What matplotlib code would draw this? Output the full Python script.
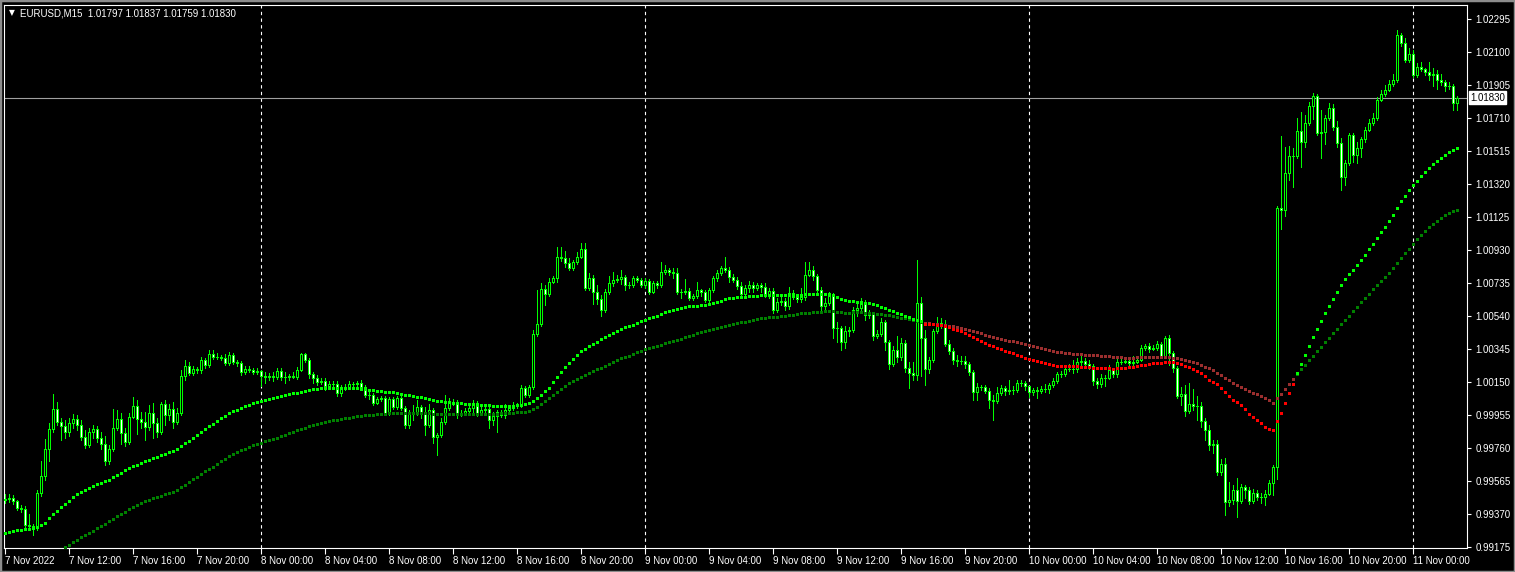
import numpy as np
import matplotlib.pyplot as plt
from matplotlib.transforms import blended_transform_factory
from matplotlib.patches import Rectangle

plt.rcParams['font.family'] = ['Liberation Sans', 'DejaVu Sans']

symbol = "EURUSD,M15"
header_ohlc = "1.01797 1.01837 1.01759 1.01830"
last_price = 1.01830
first_open = 0.99452

# prices in points (1e-5), one value per M15 bar, 7 Nov 08:00 -> 11 Nov 02:45
close_pts = [
    99458, 99465, 99446, 99405, 99399, 99304, 99298, 99287, 99494, 99595,
    99754, 99872, 99990, 99913, 99889, 99854, 99907, 99931, 99895, 99825,
    99778, 99854, 99872, 99819, 99783, 99683, 99754, 99878, 99931, 99848,
    99795, 99943, 100008, 99931, 99913, 99884, 99966, 99907, 99854, 100020,
    99954, 99990, 99913, 99966, 100186, 100245, 100203, 100227, 100221, 100280,
    100250, 100315, 100298, 100298, 100292, 100262, 100309, 100268, 100262, 100209,
    100227, 100221, 100209, 100215, 100186, 100180, 100186, 100180, 100215, 100180,
    100180, 100186, 100180, 100221, 100315, 100280, 100197, 100174, 100150, 100156,
    100127, 100138, 100138, 100085, 100115, 100121, 100138, 100138, 100144, 100121,
    100073, 100073, 100025, 100049, 100055, 99966, 100049, 100002, 100055, 99996,
    99895, 99972, 99966, 100002, 99966, 99895, 99984, 99825, 99836, 99913,
    99996, 100031, 100031, 99966, 99966, 99978, 99996, 100025, 99966, 99984,
    99990, 99925, 99948, 99972, 99954, 99984, 99996, 100008, 100014, 100115,
    100073, 100121, 100434, 100492, 100699, 100670, 100740, 100764, 100889, 100883,
    100853, 100824, 100859, 100889, 100936, 100705, 100764, 100681, 100640, 100575,
    100681, 100734, 100752, 100758, 100770, 100723, 100723, 100764, 100752, 100723,
    100746, 100681, 100734, 100723, 100800, 100812, 100800, 100794, 100681, 100681,
    100687, 100646, 100658, 100693, 100681, 100634, 100693, 100764, 100794, 100824,
    100812, 100770, 100752, 100717, 100670, 100705, 100723, 100705, 100723, 100711,
    100664, 100687, 100575, 100622, 100628, 100599, 100676, 100652, 100640, 100652,
    100782, 100812, 100776, 100693, 100599, 100616, 100658, 100469, 100469, 100386,
    100451, 100457, 100575, 100587, 100611, 100545, 100551, 100422, 100434, 100504,
    100386, 100256, 100339, 100298, 100380, 100233, 100203, 100192, 100616, 100410,
    100227, 100280, 100451, 100498, 100487, 100374, 100333, 100280, 100274, 100274,
    100256, 100209, 100090, 100121, 100121, 100096, 100043, 100037, 100085, 100115,
    100096, 100102, 100102, 100144, 100144, 100127, 100090, 100102, 100096, 100109,
    100109, 100132, 100156, 100197, 100197, 100227, 100227, 100227, 100268, 100274,
    100256, 100245, 100156, 100138, 100174, 100174, 100221, 100197, 100268, 100268,
    100274, 100262, 100268, 100280, 100351, 100363, 100345, 100351, 100374, 100303,
    100410, 100321, 100233, 100067, 100079, 99978, 100020, 100008, 100008, 99919,
    99866, 99778, 99783, 99618, 99665, 99440, 99452, 99512, 99446, 99530,
    99512, 99446, 99494, 99471, 99471, 99488, 99553, 99648, 101178, 101166,
    101385, 101485, 101485, 101633, 101568, 101680, 101781, 101840, 101621, 101627,
    101710, 101769, 101657, 101562, 101361, 101444, 101609, 101491, 101533, 101586,
    101639, 101680, 101710, 101816, 101852, 101875, 101911, 101934, 102200, 102153,
    102052, 102088, 101964, 102011, 101999, 101981, 101964, 101970, 101934, 101922,
    101899, 101899, 101797, 101830,
]
high_pts = [
    99488, 99488, 99482, 99452, 99423, 99417, 99369, 99310, 99512, 99683,
    99813, 99907, 100078, 100031, 99937, 99925, 99937, 99960, 99954, 99925,
    99866, 99878, 99895, 99889, 99854, 99830, 99778, 99990, 99984, 99966,
    99878, 99966, 100061, 100043, 99972, 99972, 100014, 100025, 99937, 100031,
    100043, 100020, 100031, 99996, 100221, 100280, 100268, 100245, 100239, 100298,
    100292, 100339, 100339, 100321, 100309, 100315, 100327, 100321, 100280, 100274,
    100245, 100245, 100233, 100233, 100221, 100209, 100203, 100209, 100233, 100233,
    100209, 100197, 100209, 100239, 100321, 100321, 100292, 100209, 100192, 100174,
    100174, 100156, 100156, 100156, 100132, 100138, 100156, 100150, 100156, 100162,
    100132, 100096, 100085, 100061, 100067, 100067, 100061, 100061, 100067, 100067,
    100008, 99984, 100014, 100043, 100014, 100002, 100020, 99996, 99848, 99937,
    100073, 100055, 100049, 100043, 99984, 99996, 100020, 100043, 100037, 100008,
    100014, 100002, 99972, 99984, 99984, 100020, 100014, 100031, 100025, 100132,
    100127, 100132, 100457, 100693, 100734, 100723, 100764, 100776, 100948, 100948,
    100924, 100883, 100871, 100918, 100972, 100972, 100794, 100782, 100723, 100664,
    100699, 100776, 100800, 100782, 100812, 100782, 100740, 100776, 100776, 100764,
    100764, 100758, 100746, 100746, 100859, 100841, 100824, 100824, 100824, 100699,
    100758, 100705, 100670, 100740, 100699, 100693, 100705, 100776, 100812, 100835,
    100889, 100829, 100788, 100770, 100740, 100723, 100746, 100740, 100734, 100734,
    100734, 100705, 100705, 100646, 100658, 100646, 100711, 100693, 100664, 100705,
    100859, 100859, 100835, 100788, 100711, 100646, 100681, 100676, 100504, 100481,
    100481, 100475, 100593, 100616, 100646, 100634, 100575, 100563, 100457, 100528,
    100516, 100398, 100363, 100422, 100410, 100398, 100268, 100268, 100871, 100652,
    100457, 100298, 100463, 100534, 100528, 100516, 100398, 100351, 100309, 100303,
    100303, 100268, 100221, 100144, 100132, 100132, 100115, 100073, 100121, 100132,
    100127, 100162, 100127, 100162, 100162, 100156, 100127, 100115, 100121, 100127,
    100138, 100144, 100174, 100209, 100215, 100245, 100256, 100280, 100292, 100315,
    100292, 100280, 100256, 100174, 100197, 100192, 100250, 100233, 100286, 100286,
    100292, 100292, 100303, 100298, 100369, 100374, 100380, 100369, 100392, 100386,
    100422, 100428, 100333, 100245, 100121, 100132, 100144, 100109, 100067, 100031,
    99937, 99895, 99807, 99807, 99695, 99701, 99559, 99541, 99583, 99547,
    99541, 99530, 99518, 99512, 99494, 99512, 99571, 99659, 101190, 101603,
    101538, 101544, 101533, 101710, 101745, 101728, 101804, 101857, 101852, 101757,
    101728, 101798, 101792, 101692, 101591, 101462, 101621, 101621, 101568, 101597,
    101657, 101704, 101739, 101834, 101875, 101905, 101934, 101970, 102230, 102212,
    102183, 102123, 102112, 102035, 102041, 102005, 102041, 102005, 101993, 101970,
    101934, 101922, 101911, 101837,
]
low_pts = [
    99434, 99440, 99428, 99393, 99381, 99292, 99275, 99245, 99275, 99477,
    99571, 99683, 99854, 99895, 99807, 99819, 99830, 99878, 99866, 99807,
    99760, 99766, 99819, 99795, 99754, 99659, 99665, 99742, 99866, 99783,
    99772, 99783, 99937, 99842, 99878, 99807, 99866, 99819, 99825, 99842,
    99895, 99925, 99878, 99901, 99954, 100162, 100192, 100192, 100203, 100203,
    100233, 100239, 100286, 100286, 100280, 100250, 100250, 100256, 100245, 100192,
    100197, 100209, 100197, 100197, 100127, 100144, 100162, 100156, 100168, 100162,
    100144, 100162, 100174, 100168, 100215, 100268, 100174, 100144, 100132, 100138,
    100102, 100109, 100121, 100067, 100067, 100102, 100109, 100121, 100127, 100109,
    100061, 100049, 100014, 100020, 100037, 99954, 99954, 99990, 99990, 99984,
    99878, 99878, 99925, 99954, 99937, 99836, 99884, 99789, 99719, 99825,
    99901, 99984, 100014, 99937, 99948, 99954, 99954, 99972, 99948, 99954,
    99972, 99878, 99895, 99854, 99943, 99937, 99972, 99984, 99996, 100002,
    100061, 100061, 100109, 100422, 100481, 100605, 100658, 100734, 100740, 100865,
    100829, 100812, 100812, 100847, 100883, 100693, 100693, 100611, 100611, 100540,
    100563, 100670, 100717, 100740, 100728, 100693, 100705, 100711, 100740, 100711,
    100705, 100670, 100676, 100705, 100711, 100788, 100782, 100764, 100670, 100646,
    100670, 100634, 100634, 100646, 100658, 100622, 100622, 100681, 100746, 100782,
    100800, 100740, 100740, 100699, 100658, 100658, 100681, 100681, 100693, 100681,
    100652, 100646, 100557, 100563, 100605, 100575, 100581, 100640, 100622, 100622,
    100634, 100776, 100752, 100664, 100575, 100575, 100605, 100410, 100386, 100339,
    100351, 100422, 100445, 100540, 100575, 100516, 100528, 100398, 100410, 100422,
    100339, 100227, 100245, 100268, 100280, 100209, 100115, 100162, 100162, 100186,
    100132, 100203, 100268, 100439, 100469, 100363, 100315, 100256, 100245, 100256,
    100233, 100192, 100043, 100043, 100102, 100085, 99996, 99925, 100025, 100073,
    100073, 100079, 100079, 100090, 100127, 100102, 100061, 100073, 100055, 100085,
    100090, 100085, 100121, 100144, 100180, 100186, 100215, 100203, 100209, 100245,
    100239, 100227, 100132, 100115, 100121, 100127, 100168, 100180, 100180, 100256,
    100262, 100245, 100250, 100262, 100274, 100339, 100327, 100339, 100339, 100292,
    100292, 100250, 100209, 100055, 100014, 99948, 99966, 99984, 99925, 99884,
    99807, 99748, 99730, 99600, 99600, 99364, 99417, 99428, 99352, 99434,
    99464, 99428, 99434, 99452, 99434, 99423, 99482, 99482, 99577, 101054,
    101131, 101343, 101302, 101473, 101420, 101538, 101668, 101704, 101609, 101473,
    101556, 101698, 101639, 101538, 101284, 101314, 101432, 101450, 101444, 101479,
    101568, 101633, 101668, 101698, 101810, 101840, 101869, 101899, 101922, 102135,
    102041, 102041, 101952, 101952, 101987, 101964, 101934, 101899, 101881, 101905,
    101869, 101881, 101757, 101759,
]
ma_fast_pts = [
    99257, 99263, 99269, 99275, 99275, 99281, 99281, 99287, 99293, 99305,
    99316, 99346, 99369, 99387, 99411, 99428, 99446, 99470, 99488, 99500,
    99512, 99524, 99535, 99547, 99553, 99565, 99571, 99589, 99600, 99612,
    99630, 99642, 99654, 99659, 99671, 99683, 99689, 99701, 99707, 99718,
    99724, 99736, 99742, 99754, 99771, 99789, 99801, 99819, 99836, 99854,
    99872, 99889, 99901, 99919, 99937, 99948, 99966, 99978, 99984, 99996,
    100008, 100014, 100025, 100031, 100037, 100043, 100049, 100055, 100061, 100067,
    100073, 100079, 100085, 100085, 100090, 100096, 100102, 100109, 100109, 100115,
    100115, 100115, 100115, 100115, 100115, 100115, 100115, 100115, 100115, 100109,
    100109, 100102, 100102, 100096, 100096, 100090, 100090, 100090, 100085, 100079,
    100073, 100073, 100067, 100061, 100061, 100055, 100049, 100043, 100037, 100037,
    100031, 100031, 100025, 100025, 100025, 100020, 100020, 100020, 100014, 100014,
    100014, 100014, 100008, 100008, 100008, 100008, 100008, 100008, 100014, 100014,
    100020, 100025, 100037, 100055, 100073, 100096, 100115, 100150, 100180, 100209,
    100239, 100262, 100286, 100309, 100333, 100345, 100363, 100374, 100386, 100404,
    100416, 100428, 100439, 100451, 100463, 100475, 100481, 100487, 100498, 100510,
    100516, 100528, 100534, 100540, 100551, 100563, 100569, 100575, 100581, 100587,
    100593, 100599, 100599, 100599, 100605, 100605, 100611, 100616, 100622, 100628,
    100640, 100646, 100646, 100652, 100652, 100652, 100658, 100658, 100658, 100664,
    100664, 100664, 100664, 100664, 100664, 100664, 100664, 100664, 100664, 100664,
    100670, 100670, 100670, 100670, 100670, 100670, 100670, 100664, 100652, 100640,
    100634, 100628, 100628, 100622, 100622, 100616, 100616, 100611, 100605, 100593,
    100587, 100575, 100569, 100557, 100551, 100540, 100534, 100522, 100516, 100510,
    100494, 100492, 100490, 100489, 100484, 100481, 100475, 100463, 100457, 100451,
    100439, 100428, 100416, 100404, 100392, 100380, 100369, 100363, 100351, 100345,
    100333, 100327, 100321, 100309, 100303, 100292, 100286, 100280, 100274, 100268,
    100262, 100256, 100250, 100245, 100245, 100245, 100245, 100245, 100245, 100239,
    100239, 100239, 100233, 100233, 100233, 100233, 100233, 100227, 100233, 100233,
    100233, 100239, 100239, 100245, 100250, 100250, 100256, 100262, 100262, 100262,
    100268, 100268, 100268, 100262, 100256, 100245, 100239, 100227, 100215, 100203,
    100186, 100162, 100150, 100138, 100115, 100090, 100067, 100043, 100031, 100014,
    99990, 99960, 99943, 99925, 99907, 99884, 99872, 99866, 99919, 99966,
    100025, 100085, 100138, 100203, 100256, 100309, 100363, 100416, 100463, 100510,
    100557, 100599, 100640, 100681, 100723, 100758, 100788, 100812, 100841, 100871,
    100900, 100936, 100965, 101001, 101036, 101066, 101101, 101137, 101178, 101220,
    101249, 101284, 101314, 101337, 101367, 101391, 101414, 101438, 101456, 101473,
    101491, 101509, 101521, 101533,
]
ma_slow_pts = [
    98991, 98997, 99003, 99008, 99014, 99020, 99026, 99032, 99044, 99062,
    99079, 99097, 99115, 99133, 99151, 99174, 99186, 99204, 99216, 99234,
    99246, 99257, 99269, 99287, 99299, 99310, 99328, 99340, 99358, 99369,
    99381, 99399, 99411, 99423, 99434, 99446, 99452, 99464, 99470, 99476,
    99488, 99494, 99500, 99512, 99530, 99541, 99559, 99577, 99589, 99606,
    99624, 99636, 99648, 99665, 99683, 99695, 99713, 99724, 99736, 99748,
    99754, 99766, 99778, 99783, 99789, 99801, 99807, 99813, 99819, 99830,
    99836, 99848, 99854, 99866, 99872, 99878, 99889, 99895, 99901, 99907,
    99913, 99919, 99925, 99925, 99931, 99937, 99937, 99943, 99948, 99948,
    99954, 99954, 99954, 99960, 99960, 99960, 99966, 99966, 99966, 99966,
    99966, 99966, 99966, 99966, 99966, 99966, 99966, 99960, 99960, 99960,
    99960, 99960, 99960, 99960, 99960, 99960, 99960, 99960, 99960, 99960,
    99960, 99960, 99960, 99960, 99966, 99966, 99966, 99966, 99972, 99972,
    99972, 99978, 99990, 100002, 100020, 100037, 100055, 100073, 100090, 100109,
    100127, 100144, 100156, 100168, 100180, 100192, 100203, 100215, 100227, 100233,
    100245, 100256, 100268, 100280, 100292, 100298, 100303, 100315, 100327, 100333,
    100345, 100351, 100357, 100363, 100369, 100380, 100386, 100392, 100398, 100404,
    100416, 100422, 100428, 100439, 100445, 100451, 100457, 100463, 100469, 100475,
    100481, 100487, 100492, 100498, 100504, 100504, 100510, 100516, 100522, 100528,
    100528, 100534, 100534, 100534, 100540, 100540, 100545, 100545, 100551, 100557,
    100557, 100557, 100563, 100563, 100563, 100569, 100569, 100569, 100563, 100563,
    100557, 100557, 100563, 100563, 100563, 100557, 100557, 100557, 100551, 100551,
    100545, 100545, 100540, 100534, 100528, 100528, 100522, 100516, 100510, 100504,
    100498, 100498, 100492, 100492, 100487, 100487, 100481, 100481, 100475, 100469,
    100463, 100457, 100451, 100445, 100439, 100428, 100422, 100416, 100410, 100404,
    100398, 100392, 100392, 100386, 100380, 100374, 100369, 100363, 100357, 100351,
    100345, 100339, 100333, 100327, 100327, 100321, 100321, 100315, 100315, 100315,
    100309, 100309, 100309, 100309, 100303, 100303, 100303, 100298, 100298, 100298,
    100292, 100292, 100292, 100298, 100298, 100298, 100298, 100298, 100298, 100298,
    100298, 100298, 100292, 100292, 100286, 100280, 100274, 100268, 100262, 100250,
    100239, 100233, 100221, 100203, 100192, 100174, 100162, 100144, 100132, 100121,
    100109, 100096, 100085, 100079, 100067, 100055, 100043, 100025, 100055, 100079,
    100109, 100138, 100168, 100197, 100227, 100250, 100280, 100303, 100333, 100357,
    100386, 100410, 100439, 100463, 100492, 100516, 100540, 100569, 100593, 100622,
    100646, 100670, 100699, 100723, 100746, 100770, 100794, 100824, 100853, 100883,
    100912, 100936, 100965, 100995, 101018, 101042, 101066, 101084, 101101, 101119,
    101137, 101149, 101160, 101166,
]

price_ticks = [1.02295, 1.02100, 1.01905, 1.01710, 1.01515, 1.01320, 1.01125,
               1.00930, 1.00735, 1.00540, 1.00345, 1.00150, 0.99955, 0.99760,
               0.99565, 0.99370, 0.99175]
time_labels = ["7 Nov 2022", "7 Nov 12:00", "7 Nov 16:00", "7 Nov 20:00",
               "8 Nov 00:00", "8 Nov 04:00", "8 Nov 08:00", "8 Nov 12:00",
               "8 Nov 16:00", "8 Nov 20:00", "9 Nov 00:00", "9 Nov 04:00",
               "9 Nov 08:00", "9 Nov 12:00", "9 Nov 16:00", "9 Nov 20:00",
               "10 Nov 00:00", "10 Nov 04:00", "10 Nov 08:00", "10 Nov 12:00",
               "10 Nov 16:00", "10 Nov 20:00", "11 Nov 00:00"]
bars_per_label = 16
day_start_bars = [64, 160, 256, 352]

close = np.array(close_pts) / 1e5
high = np.array(high_pts) / 1e5
low = np.array(low_pts) / 1e5
fast = np.array(ma_fast_pts) / 1e5
slow = np.array(ma_slow_pts) / 1e5
opens = np.concatenate([[first_open], close[:-1]])
x = np.arange(len(close))

W, H = 1515, 572
fig = plt.figure(figsize=(W / 100, H / 100), dpi=100, facecolor='black')
fig.patches.append(Rectangle((0, 0), 1, 1, transform=fig.transFigure, fill=False,
                             edgecolor='#8c8c8c', linewidth=2.5))
ax = fig.add_axes([4 / W, 1 - 548 / H, 1463 / W, 543 / H])
ax.set_facecolor('black')

lime = '#00ff00'
# wicks
ax.vlines(x, low, high, color=lime, linewidth=0.7, zorder=2, antialiased=False)
# bodies
up = close >= opens
body_lo = np.minimum(opens, close)
body_h = np.abs(close - opens)
ax.bar(x[up], body_h[up], bottom=body_lo[up], width=0.5, color='black',
       edgecolor=lime, linewidth=0.65, zorder=3, antialiased=False)
ax.bar(x[~up], body_h[~up], bottom=body_lo[~up], width=0.5, color='white',
       edgecolor=lime, linewidth=0.65, zorder=3, antialiased=False)

# moving averages, green while fast above slow, red otherwise
bull = fast > slow
ms = 2.16
kw = dict(ms=ms, mew=0, antialiased=False)
ax.plot(x[bull], slow[bull], 's', color='#008000', zorder=4, **kw)
ax.plot(x[~bull], slow[~bull], 's', color='#9a2e2e', zorder=4, **kw)
ax.plot(x[bull], fast[bull], 's', color='#00ff00', zorder=5, **kw)
ax.plot(x[~bull], fast[~bull], 's', color='#ff0000', zorder=5, **kw)

# day separators and last price line
for d in day_start_bars:
    ax.axvline(d, color='white', linewidth=0.8, linestyle=(0, (3, 3)), zorder=1)
ax.axhline(last_price, color='#a0a0a0', linewidth=0.8, zorder=1)

ax.set_xlim(-0.25, 365.5)
ax.set_ylim(0.99169, 1.02377)

for s in ax.spines.values():
    s.set_color('white')
    s.set_linewidth(0.8)

ax.yaxis.tick_right()
ax.set_yticks(price_ticks)
ax.set_yticklabels([f"{p:.5f}" for p in price_ticks])
ax.tick_params(axis='y', colors='white', length=3, width=0.8, pad=3, labelsize=7)

ax.set_xticks(x[::bars_per_label][:len(time_labels)])
ax.set_xticklabels(time_labels)
ax.tick_params(axis='x', colors='white', length=4, width=0.8, pad=1.5, labelsize=7)
for lbl in ax.get_xticklabels():
    lbl.set_horizontalalignment('left')

# current price box on the scale
tr = blended_transform_factory(ax.transAxes, ax.transData)
ax.text(1.0 + 3 / 1463, last_price, f"{last_price:.5f}", transform=tr, ha='left',
        va='center', fontsize=7, color='black', zorder=6,
        bbox=dict(facecolor='white', edgecolor='white', boxstyle='square,pad=0.15'))

# header
fig.text(9 / W, 1 - 13 / H, "\u25bc", color='white', fontsize=5.5, va='center',
         family=['DejaVu Sans'])
fig.text(20 / W, 1 - 13 / H, f"{symbol}  {header_ohlc}", color='white',
         fontsize=7, va='center')

fig.savefig("out.png", dpi=100, facecolor='black')
